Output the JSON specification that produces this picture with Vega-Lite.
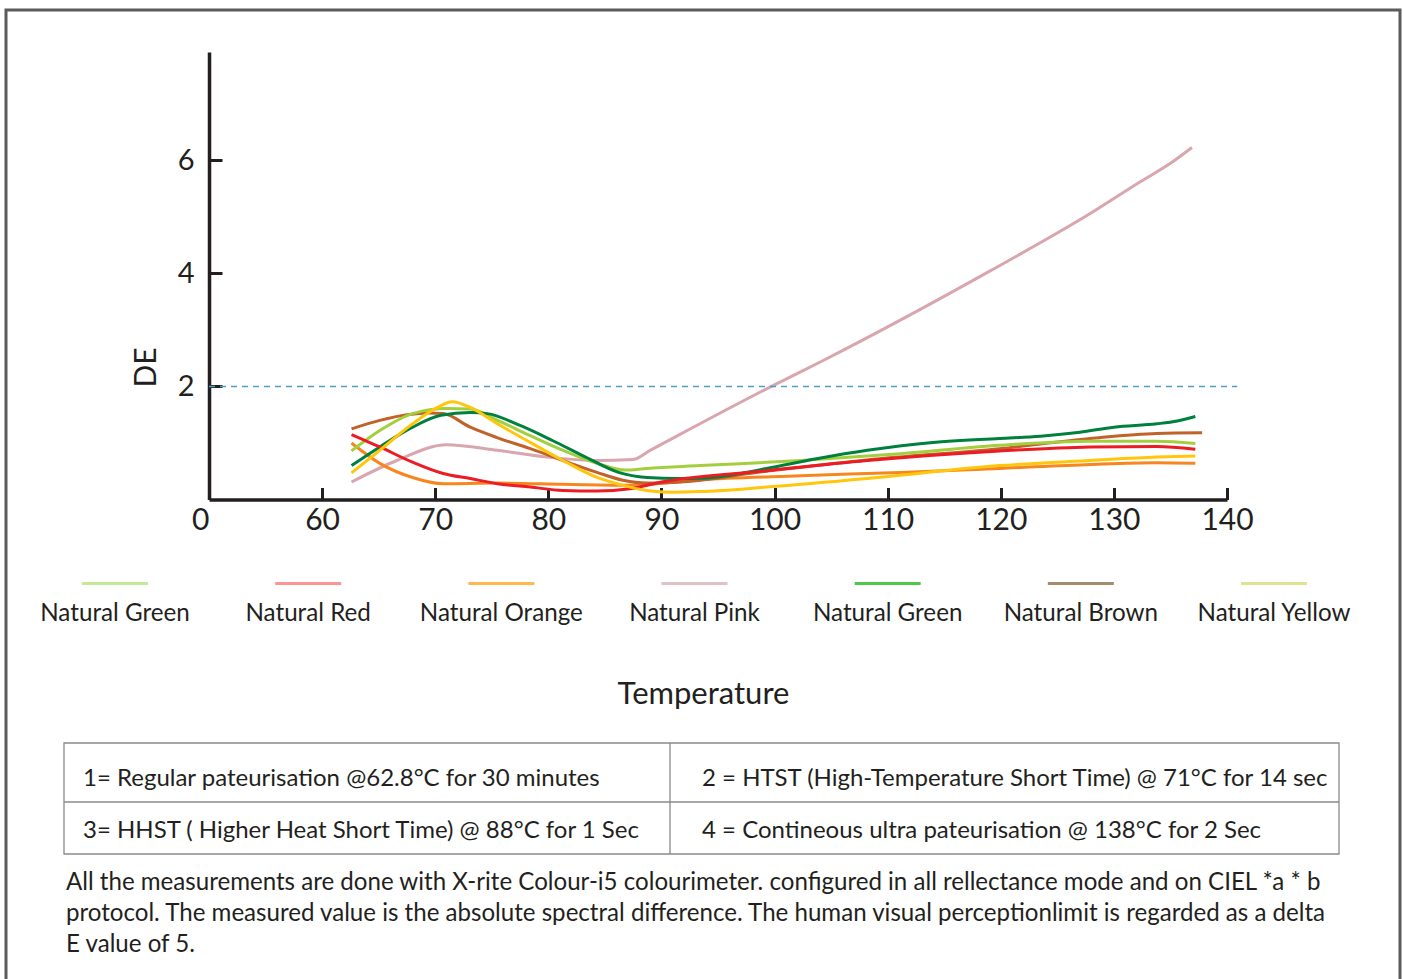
{
  "$schema": "https://vega.github.io/schema/vega-lite/v6.json",
  "width": 1394,
  "height": 975,
  "autosize": "none",
  "padding": {"left": 6, "top": 10, "right": 3, "bottom": 0},
  "background": "white",
  "config": {
    "view": {"stroke": "#5b5b5b", "strokeWidth": 3},
    "font": "Lato",
    "axis": {"labelFont": "Lato", "titleFont": "Lato", "grid": false},
    "text": {"font": "Lato"}
  },
  "datasets": {
    "curves": [
      {"s": "Natural Pink", "T": 62.6, "DE": 0.31},
      {"s": "Natural Pink", "T": 66.6, "DE": 0.69},
      {"s": "Natural Pink", "T": 71.0, "DE": 0.97},
      {"s": "Natural Pink", "T": 75.5, "DE": 0.87},
      {"s": "Natural Pink", "T": 79.9, "DE": 0.75},
      {"s": "Natural Pink", "T": 84.3, "DE": 0.69},
      {"s": "Natural Pink", "T": 87.5, "DE": 0.71},
      {"s": "Natural Pink", "T": 89.0, "DE": 0.87},
      {"s": "Natural Pink", "T": 99.9, "DE": 2.02},
      {"s": "Natural Pink", "T": 104.3, "DE": 2.46},
      {"s": "Natural Pink", "T": 119.1, "DE": 4.05},
      {"s": "Natural Pink", "T": 127.9, "DE": 5.06},
      {"s": "Natural Pink", "T": 132.3, "DE": 5.62},
      {"s": "Natural Pink", "T": 135.0, "DE": 5.95},
      {"s": "Natural Pink", "T": 136.9, "DE": 6.23},

      {"s": "Natural Orange", "T": 62.6, "DE": 1.0},
      {"s": "Natural Orange", "T": 65.1, "DE": 0.64},
      {"s": "Natural Orange", "T": 68.0, "DE": 0.39},
      {"s": "Natural Orange", "T": 70.7, "DE": 0.28},
      {"s": "Natural Orange", "T": 75.5, "DE": 0.29},
      {"s": "Natural Orange", "T": 81.3, "DE": 0.27},
      {"s": "Natural Orange", "T": 87.2, "DE": 0.25},
      {"s": "Natural Orange", "T": 93.4, "DE": 0.35},
      {"s": "Natural Orange", "T": 102.3, "DE": 0.42},
      {"s": "Natural Orange", "T": 111.1, "DE": 0.48},
      {"s": "Natural Orange", "T": 119.9, "DE": 0.55},
      {"s": "Natural Orange", "T": 127.9, "DE": 0.62},
      {"s": "Natural Orange", "T": 133.8, "DE": 0.65},
      {"s": "Natural Orange", "T": 137.2, "DE": 0.64},

      {"s": "Natural Brown", "T": 62.6, "DE": 1.25},
      {"s": "Natural Brown", "T": 65.1, "DE": 1.40},
      {"s": "Natural Brown", "T": 67.5, "DE": 1.50},
      {"s": "Natural Brown", "T": 69.5, "DE": 1.53},
      {"s": "Natural Brown", "T": 70.7, "DE": 1.52},
      {"s": "Natural Brown", "T": 73.1, "DE": 1.28},
      {"s": "Natural Brown", "T": 75.4, "DE": 1.10},
      {"s": "Natural Brown", "T": 78.4, "DE": 0.90},
      {"s": "Natural Brown", "T": 81.3, "DE": 0.69},
      {"s": "Natural Brown", "T": 84.3, "DE": 0.48},
      {"s": "Natural Brown", "T": 86.6, "DE": 0.34},
      {"s": "Natural Brown", "T": 88.7, "DE": 0.29},
      {"s": "Natural Brown", "T": 91.0, "DE": 0.30},
      {"s": "Natural Brown", "T": 99.3, "DE": 0.50},
      {"s": "Natural Brown", "T": 108.2, "DE": 0.70},
      {"s": "Natural Brown", "T": 119.9, "DE": 0.90},
      {"s": "Natural Brown", "T": 127.9, "DE": 1.08},
      {"s": "Natural Brown", "T": 133.8, "DE": 1.17},
      {"s": "Natural Brown", "T": 137.8, "DE": 1.18},

      {"s": "Natural Green 1", "T": 62.6, "DE": 0.86},
      {"s": "Natural Green 1", "T": 65.1, "DE": 1.22},
      {"s": "Natural Green 1", "T": 68.0, "DE": 1.52},
      {"s": "Natural Green 1", "T": 71.0, "DE": 1.61},
      {"s": "Natural Green 1", "T": 73.1, "DE": 1.60},
      {"s": "Natural Green 1", "T": 75.5, "DE": 1.40},
      {"s": "Natural Green 1", "T": 78.4, "DE": 1.13},
      {"s": "Natural Green 1", "T": 81.3, "DE": 0.87},
      {"s": "Natural Green 1", "T": 84.3, "DE": 0.64},
      {"s": "Natural Green 1", "T": 86.8, "DE": 0.52},
      {"s": "Natural Green 1", "T": 88.7, "DE": 0.55},
      {"s": "Natural Green 1", "T": 93.4, "DE": 0.60},
      {"s": "Natural Green 1", "T": 102.3, "DE": 0.69},
      {"s": "Natural Green 1", "T": 111.1, "DE": 0.81},
      {"s": "Natural Green 1", "T": 119.9, "DE": 0.96},
      {"s": "Natural Green 1", "T": 127.9, "DE": 1.03},
      {"s": "Natural Green 1", "T": 133.8, "DE": 1.03},
      {"s": "Natural Green 1", "T": 137.2, "DE": 0.99},

      {"s": "Natural Green 2", "T": 62.6, "DE": 0.60},
      {"s": "Natural Green 2", "T": 65.1, "DE": 0.93},
      {"s": "Natural Green 2", "T": 68.0, "DE": 1.28},
      {"s": "Natural Green 2", "T": 70.5, "DE": 1.49},
      {"s": "Natural Green 2", "T": 73.1, "DE": 1.54},
      {"s": "Natural Green 2", "T": 74.6, "DE": 1.52},
      {"s": "Natural Green 2", "T": 77.5, "DE": 1.31},
      {"s": "Natural Green 2", "T": 80.4, "DE": 1.04},
      {"s": "Natural Green 2", "T": 83.3, "DE": 0.75},
      {"s": "Natural Green 2", "T": 86.2, "DE": 0.48},
      {"s": "Natural Green 2", "T": 88.7, "DE": 0.39},
      {"s": "Natural Green 2", "T": 91.5, "DE": 0.37},
      {"s": "Natural Green 2", "T": 94.0, "DE": 0.38},
      {"s": "Natural Green 2", "T": 99.3, "DE": 0.55},
      {"s": "Natural Green 2", "T": 103.7, "DE": 0.72},
      {"s": "Natural Green 2", "T": 108.2, "DE": 0.87},
      {"s": "Natural Green 2", "T": 114.0, "DE": 1.01},
      {"s": "Natural Green 2", "T": 119.9, "DE": 1.08},
      {"s": "Natural Green 2", "T": 123.5, "DE": 1.12},
      {"s": "Natural Green 2", "T": 127.0, "DE": 1.19},
      {"s": "Natural Green 2", "T": 130.0, "DE": 1.28},
      {"s": "Natural Green 2", "T": 133.8, "DE": 1.34},
      {"s": "Natural Green 2", "T": 135.6, "DE": 1.39},
      {"s": "Natural Green 2", "T": 137.2, "DE": 1.47},

      {"s": "Natural Red", "T": 62.6, "DE": 1.15},
      {"s": "Natural Red", "T": 65.1, "DE": 0.93},
      {"s": "Natural Red", "T": 68.0, "DE": 0.66},
      {"s": "Natural Red", "T": 70.7, "DE": 0.46},
      {"s": "Natural Red", "T": 73.1, "DE": 0.37},
      {"s": "Natural Red", "T": 75.5, "DE": 0.28},
      {"s": "Natural Red", "T": 78.4, "DE": 0.22},
      {"s": "Natural Red", "T": 81.3, "DE": 0.16},
      {"s": "Natural Red", "T": 84.3, "DE": 0.15},
      {"s": "Natural Red", "T": 87.2, "DE": 0.19},
      {"s": "Natural Red", "T": 90.0, "DE": 0.31},
      {"s": "Natural Red", "T": 99.3, "DE": 0.51},
      {"s": "Natural Red", "T": 108.2, "DE": 0.69},
      {"s": "Natural Red", "T": 119.9, "DE": 0.86},
      {"s": "Natural Red", "T": 127.9, "DE": 0.93},
      {"s": "Natural Red", "T": 133.8, "DE": 0.94},
      {"s": "Natural Red", "T": 137.2, "DE": 0.89},

      {"s": "Natural Yellow", "T": 62.6, "DE": 0.47},
      {"s": "Natural Yellow", "T": 65.1, "DE": 0.87},
      {"s": "Natural Yellow", "T": 68.0, "DE": 1.34},
      {"s": "Natural Yellow", "T": 70.2, "DE": 1.63},
      {"s": "Natural Yellow", "T": 71.5, "DE": 1.73},
      {"s": "Natural Yellow", "T": 73.1, "DE": 1.63},
      {"s": "Natural Yellow", "T": 75.5, "DE": 1.34},
      {"s": "Natural Yellow", "T": 78.4, "DE": 1.01},
      {"s": "Natural Yellow", "T": 81.3, "DE": 0.69},
      {"s": "Natural Yellow", "T": 84.3, "DE": 0.39},
      {"s": "Natural Yellow", "T": 86.6, "DE": 0.25},
      {"s": "Natural Yellow", "T": 88.7, "DE": 0.16},
      {"s": "Natural Yellow", "T": 90.8, "DE": 0.13},
      {"s": "Natural Yellow", "T": 93.4, "DE": 0.14},
      {"s": "Natural Yellow", "T": 99.3, "DE": 0.22},
      {"s": "Natural Yellow", "T": 108.2, "DE": 0.37},
      {"s": "Natural Yellow", "T": 119.9, "DE": 0.60},
      {"s": "Natural Yellow", "T": 127.9, "DE": 0.69},
      {"s": "Natural Yellow", "T": 133.8, "DE": 0.75},
      {"s": "Natural Yellow", "T": 137.2, "DE": 0.77}
    ],
    "legendItems": [
      {"key": "k1", "label": "Natural Green"},
      {"key": "k2", "label": "Natural Red"},
      {"key": "k3", "label": "Natural Orange"},
      {"key": "k4", "label": "Natural Pink"},
      {"key": "k5", "label": "Natural Green"},
      {"key": "k6", "label": "Natural Brown"},
      {"key": "k7", "label": "Natural Yellow"}
    ],
    "tableCells": [
      {"col": "c1", "row": "r1", "text": "1= Regular pateurisation @62.8°C for 30 minutes"},
      {"col": "c2", "row": "r1", "text": "2 = HTST  (High-Temperature Short Time) @ 71°C for 14 sec"},
      {"col": "c1", "row": "r2", "text": "3= HHST ( Higher Heat Short Time) @ 88°C for 1 Sec"},
      {"col": "c2", "row": "r2", "text": "4 = Contineous ultra pateurisation @ 138°C for 2 Sec"}
    ],
    "notes": [
      {"line": "l1", "text": "All the measurements are done with X-rite Colour-i5 colourimeter. configured in all rellectance mode and on CIEL *a * b"},
      {"line": "l2", "text": "protocol. The measured value is the absolute spectral difference. The human visual perceptionlimit is regarded as a delta"},
      {"line": "l3", "text": "E value of 5."}
    ]
  },
  "layer": [
    {
      "layer": [
        {
          "data": {"name": "curves"},
          "mark": {"type": "line", "interpolate": "monotone", "strokeWidth": 3},
          "encoding": {
            "x": {
              "field": "T", "type": "quantitative",
              "scale": {"domain": [50, 140], "range": [203, 1221], "nice": false, "zero": false},
              "axis": {
                "values": [50, 60, 70, 80, 90, 100, 110, 120, 130, 140],
                "labelExpr": "datum.value == 50 ? '0' : datum.label",
                "labelAlign": {"condition": {"test": "datum.value == 50", "value": "right"}, "value": "center"},
                "offset": -485.5,
                "domainColor": "#231f20", "domainWidth": 3.5,
                "tickColor": "#231f20", "tickWidth": 3, "tickSize": -12,
                "labelFontSize": 30, "labelColor": "#231f20", "labelPadding": 17.5,
                "labelFlush": false, "labelOverlap": false,
                "title": "Temperature", "titleFontSize": 31, "titleFontWeight": "normal", "titleColor": "#231f20",
                "titleX": 697, "titleY": 203.5, "titleBaseline": "alphabetic", "titleAlign": "center"
              }
            },
            "y": {
              "field": "DE", "type": "quantitative",
              "scale": {"domain": [0, 7.92], "range": [489.5, 42], "nice": false, "zero": false},
              "axis": {
                "values": [2, 4, 6],
                "format": "d",
                "offset": -203,
                "domainColor": "#231f20", "domainWidth": 3.5,
                "tickColor": "#231f20", "tickWidth": 3, "tickSize": -13,
                "labelFontSize": 29, "labelColor": "#231f20", "labelPadding": 28,
                "labelFlush": false, "labelOverlap": false,
                "title": "DE", "titleFontSize": 30, "titleFontWeight": "normal", "titleColor": "#231f20",
                "titleX": -54, "titleY": 357, "titleBaseline": "alphabetic", "titleAlign": "center", "titleAngle": -90
              }
            },
            "color": {
              "field": "s", "type": "nominal",
              "scale": {
                "domain": ["Natural Green 1", "Natural Red", "Natural Orange", "Natural Pink", "Natural Green 2", "Natural Brown", "Natural Yellow"],
                "range": ["#a3cf3e", "#ec1c24", "#f7861f", "#d9a6ae", "#00803e", "#c1622a", "#ffc60b"]
              },
              "legend": null
            }
          }
        },
        {
          "data": {"values": [{}]},
          "mark": {"type": "rule", "color": "#4f9fc4", "strokeWidth": 1.5, "strokeDash": [6, 5]},
          "encoding": {
            "x": {"datum": 50, "type": "quantitative"},
            "x2": {"datum": 140.9},
            "y": {"datum": 2, "type": "quantitative"}
          }
        }
      ]
    },
    {
      "data": {"name": "legendItems"},
      "layer": [
        {
          "mark": {"type": "tick", "orient": "horizontal", "size": 66, "thickness": 3},
          "encoding": {
            "x": {"field": "key", "type": "nominal", "scale": {"type": "point", "range": [109, 1268], "padding": 0}, "axis": null},
            "y": {"datum": "s", "type": "nominal", "scale": {"type": "point", "domain": ["s", "t"], "range": [573.5, 611], "padding": 0}, "axis": null},
            "color": {
              "field": "key", "type": "nominal",
              "scale": {"domain": ["k1", "k2", "k3", "k4", "k5", "k6", "k7"], "range": ["#a6e06a", "#ff6666", "#ff9a00", "#d4a6ae", "#00b000", "#7f5a2b", "#cfd764"]},
              "legend": null
            }
          }
        },
        {
          "mark": {"type": "text", "fontSize": 24.2, "color": "#231f20", "align": "center", "baseline": "alphabetic"},
          "encoding": {
            "x": {"field": "key", "type": "nominal"},
            "y": {"datum": "t", "type": "nominal"},
            "text": {"field": "label"}
          }
        }
      ]
    },
    {
      "data": {"name": "tableCells"},
      "mark": {"type": "text", "fontSize": 24, "color": "#231f20", "align": "left", "baseline": "alphabetic"},
      "encoding": {
        "x": {"field": "col", "type": "nominal", "scale": {"type": "point", "range": [77, 696], "padding": 0}, "axis": null},
        "y": {"field": "row", "type": "nominal", "scale": {"type": "point", "range": [776, 828], "padding": 0}, "axis": null},
        "text": {"field": "text"}
      }
    },
    {
      "data": {"values": [{}]},
      "layer": [
        {
          "mark": {"type": "rect", "fill": null, "fillOpacity": 0, "stroke": "#8a8a8a", "strokeWidth": 1.3},
          "encoding": {
            "x": {"datum": 0, "type": "quantitative", "scale": {"domain": [0, 1], "range": [58, 1333]}, "axis": null},
            "x2": {"datum": 1},
            "y": {"datum": 0, "type": "quantitative", "scale": {"domain": [0, 1], "range": [733, 844]}, "axis": null},
            "y2": {"datum": 1}
          }
        },
        {
          "mark": {"type": "rule", "color": "#8a8a8a", "strokeWidth": 1.3},
          "encoding": {
            "x": {"datum": 0.4753, "type": "quantitative"},
            "y": {"datum": 0, "type": "quantitative"},
            "y2": {"datum": 1}
          }
        },
        {
          "mark": {"type": "rule", "color": "#8a8a8a", "strokeWidth": 1.3},
          "encoding": {
            "x": {"datum": 0, "type": "quantitative"},
            "x2": {"datum": 1},
            "y": {"datum": 0.5315, "type": "quantitative"}
          }
        }
      ]
    },
    {
      "data": {"name": "notes"},
      "mark": {"type": "text", "fontSize": 24.1, "color": "#231f20", "align": "left", "baseline": "alphabetic"},
      "encoding": {
        "x": {"datum": 0, "type": "quantitative", "scale": {"domain": [0, 1], "range": [60, 1333]}, "axis": null},
        "y": {"field": "line", "type": "nominal", "scale": {"type": "point", "range": [880, 942], "padding": 0}, "axis": null},
        "text": {"field": "text"}
      }
    }
  ],
  "resolve": {"scale": {"x": "independent", "y": "independent", "color": "independent"}}
}
